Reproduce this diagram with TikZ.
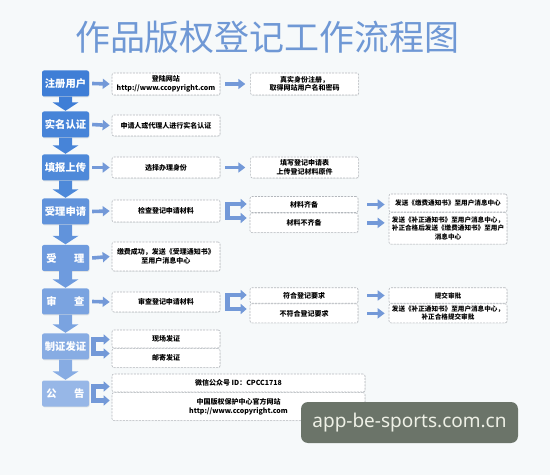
\documentclass[tikz,border=0pt]{standalone}
\usepackage{fontspec}
\setmainfont{Noto Sans CJK SC}
\newfontfamily\wmfont{Noto Sans}
\usepackage{tikz}
\usetikzlibrary{arrows.meta,positioning,calc,shadows}
\definecolor{bgc}{HTML}{F6F9FA}
\definecolor{ttl}{HTML}{6F98D5}
\definecolor{harc}{HTML}{7399D8}
\definecolor{dashc}{HTML}{B3B7BC}
\definecolor{wmc}{HTML}{6B7469}
\definecolor{wmtext}{HTML}{EEF0E6}
\definecolor{st1}{HTML}{3F7ED6}
\definecolor{st2}{HTML}{4784D8}
\definecolor{st3}{HTML}{4E89D9}
\definecolor{st4}{HTML}{6193DB}
\definecolor{st5}{HTML}{6E9BDE}
\definecolor{st6}{HTML}{7AA3E0}
\definecolor{st7}{HTML}{87ACE3}
\definecolor{st8}{HTML}{97B7E7}
\newcommand{\dnarrow}[3]{%
  \fill[#3] ($(#1.south)+(-6.5,0)$) -- ($(#1.south)+(6.5,0)$)
    -- ($(#2.north)+(6.5,9)$) -- ($(#2.north)+(13,9)$)
    -- ($(#2.north)+(0,0.5)$) -- ($(#2.north)+(-13,9)$)
    -- ($(#2.north)+(-6.5,9)$) -- cycle;}
\tikzset{
  stagebox/.style={rounded corners=2pt, minimum width=47pt, minimum height=26pt,
              inner sep=0pt, text=white, font=\fontsize{10.3}{12}\selectfont\bfseries,
              drop shadow={opacity=0.18, shadow xshift=0.6pt, shadow yshift=-0.8pt}},
  notebox/.style={draw=dashc, dash pattern=on 2pt off 1.2pt, line width=0.6pt,
              fill=white, rounded corners=2pt, minimum width=108pt, inner xsep=1.5pt,
              inner ysep=1pt, align=center, font=\fontsize{7}{8.4}\selectfont\bfseries,
              drop shadow={opacity=0.12, shadow xshift=0.5pt, shadow yshift=-0.6pt}},
  widebox/.style={notebox, minimum width=118pt, font=\fontsize{6.6}{8.2}\selectfont\bfseries},
  harr/.style={-{Triangle[length=7pt,width=10pt]}, line width=3.6pt, draw=harc},
  brk/.style={{Triangle[length=6pt,width=10pt]}-{Triangle[length=6pt,width=10pt]},
              line width=4.5pt, draw=harc, line join=miter},
}
\begin{document}
\begin{tikzpicture}[x=1pt, y=1pt]
\fill[bgc] (0,0) rectangle (550,475);

% ---- title ----
\node[text=ttl, font=\fontsize{35}{35}\selectfont] (title) at (267.5,438) {作品版权登记工作流程图};

% ---- stages ----
\node[stagebox, fill=st1] (s1) at (65.5,391.5) {注册用户};
\node[stagebox, fill=st2] (s2) at (65.5,350.5) {实名认证};
\node[stagebox, fill=st3] (s3) at (65.5,307.5) {填报上传};
\node[stagebox, fill=st4] (s4) at (65.5,263.5) {受理申请};
\node[stagebox, fill=st5] (s5) at (65.5,217) {受\hspace{1.7em}理};
\node[stagebox, fill=st6] (s6) at (65.5,173.5) {审\hspace{1.7em}查};
\node[stagebox, fill=st7] (s7) at (65.5,128.5) {制证发证};
\node[stagebox, fill=st8] (s8) at (65.5,81.5) {公\hspace{1.7em}告};

\dnarrow{s1}{s2}{st1}
\dnarrow{s2}{s3}{st2}
\dnarrow{s3}{s4}{st3}
\dnarrow{s4}{s5}{st4}
\dnarrow{s5}{s6}{st5}
\dnarrow{s6}{s7}{st6}
\dnarrow{s7}{s8}{st7}

% ---- first column ----
\node[notebox, minimum height=22pt] (n1) at (166,391) {登陆网站\\http://www.ccopyright.com};
\node[notebox, minimum height=21pt] (n2) at (166,349.5) {申请人或代理人进行实名认证};
\node[notebox, minimum height=21pt] (n3) at (166,307.5) {选择办理身份};
\node[notebox, minimum height=22pt] (n4) at (166,264) {检查登记申请材料};
\node[notebox, minimum height=29pt] (n5) at (166,218.5) {缴费成功，发送《受理通知书》\\至用户消息中心};
\node[notebox, minimum height=20pt] (n6) at (166,173) {审查登记申请材料};
\node[notebox, minimum height=18pt] (n7a) at (166,136) {现场发证};
\node[notebox, minimum height=19pt, below=0pt of n7a] (n7b) {邮寄发证};
\node[notebox, minimum width=253pt, minimum height=18pt] (n8a) at (238.5,92) {微信公众号 ID：CPCC1718};
\node[notebox, minimum width=253pt, minimum height=28pt, below=0pt of n8a] (n8b) {中国版权保护中心官方网站\\http://www.ccopyright.com};

% ---- second column ----
\node[notebox, minimum height=22pt, right=30pt of n1] (m1) {真实身份注册，\\取得网站用户名和密码};
\node[notebox, minimum height=21pt, right=30pt of n3] (m3) {填写登记申请表\\上传登记材料原件};
\node[notebox, minimum height=16pt] (m4a) at (304,270.5) {材料齐备};
\node[notebox, minimum height=19.5pt, below=0pt of m4a] (m4b) {材料不齐备};
\node[notebox, minimum height=15.5pt] (m6a) at (304,179.5) {符合登记要求};
\node[notebox, minimum height=19pt, below=0pt of m6a] (m6b) {不符合登记要求};

% ---- third column ----
\node[widebox, minimum height=18pt] (r4a) at (448,272) {发送《缴费通知书》至用户消息中心};
\node[widebox, minimum height=31.5pt, below=0pt of r4a] (r4b) {发送《补正通知书》至用户消息中心，\\补正合格后发送《缴费通知书》至用户\\消息中心};
\node[widebox, minimum height=15.5pt] (r6a) at (448,179.5) {提交审批};
\node[widebox, minimum height=19pt, below=0pt of r6a] (r6b) {发送《补正通知书》至用户消息中心，\\补正合格提交审批};

% ---- arrows ----
\foreach \i in {1,...,6}
  \draw[harr] ([xshift=3pt]s\i.east) -- ([xshift=-2pt]n\i.west);
\draw[harr] ([xshift=5pt]n1.east) -- ([xshift=-5pt]m1.west);
\draw[harr] ([xshift=5pt]n3.east) -- ([xshift=-5pt]m3.west);
\draw[harr] ([xshift=9pt]m4a.east) -- ([xshift=-4pt]m4a.east -| r4a.west);
\draw[harr] ([xshift=9pt]m4b.east) -- ([xshift=-4pt]m4b.east -| r4b.west);
\draw[harr] ([xshift=9pt]m6a.east) -- ([xshift=-4pt]m6a.east -| r6a.west);
\draw[harr] ([xshift=9pt]m6b.east) -- ([xshift=-4pt]m6b.east -| r6b.west);

% two-way brackets
\draw[brk] ($(n4.east -| m4a.west)+(-3,7)$) -- ++(-19,0) |- ($(n4.east -| m4b.west)+(-3,-7)$);
\draw[brk] ($(n6.east -| m6a.west)+(-3,7)$) -- ++(-19,0) |- ($(n6.east -| m6b.west)+(-3,-7)$);
\draw[brk] ($(s7.east -| n7a.west)+(-2,7)$) -- ++(-16,0) |- ($(s7.east -| n7b.west)+(-2,-7)$);
\draw[brk] ($(s8.east -| n8a.west)+(-2,7)$) -- ++(-16,0) |- ($(s8.east -| n8b.west)+(-2,-7)$);

% ---- watermark ----
\node[fill=wmc, rounded corners=7pt, minimum width=217pt, minimum height=41pt,
      text=wmtext, font=\wmfont\fontsize{19}{22}\selectfont] (wm) at (409.5,52.5) {app-be-sports.com.cn};
\end{tikzpicture}
\end{document}
